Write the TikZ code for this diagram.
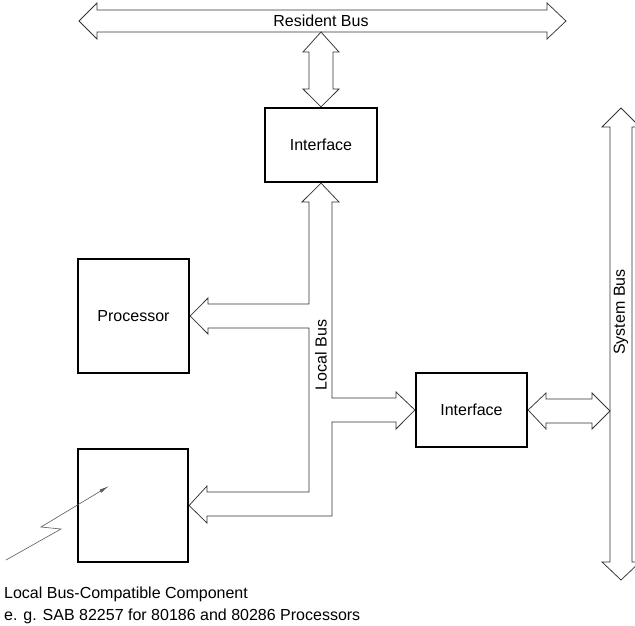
\documentclass[tikz,border=0pt]{standalone}
\usepackage{fontspec}
\setmainfont{Liberation Sans}
\usetikzlibrary{arrows.meta}
\begin{document}
\begin{tikzpicture}[x=1pt,y=-1pt,
  bus/.style={draw=black!80,line width=0.75pt,line join=miter},
  txt/.style={font=\fontsize{16}{19}\selectfont,inner sep=0pt},
  unit/.style={draw=black,line width=2.2pt,inner sep=0pt,txt},
  spark/.style={draw=black!65,line width=0.6pt}]
\useasboundingbox (0,0) rectangle (635,626);

% functional blocks
\node[unit,minimum width=112pt,minimum height=74pt]  (if1)  at (321,145)   {Interface};
\node[unit,minimum width=111pt,minimum height=114pt] (proc) at (133.5,316) {Processor};
\node[unit,minimum width=110pt,minimum height=113pt] (comp) at (133,505.5) {};
\node[unit,minimum width=111pt,minimum height=74pt]  (if2)  at (471.5,410) {Interface};

% resident bus
\path[bus] (79,21) -- (97,3) -- (97,10) -- (547,10) -- (547,3) -- (566,21)
  -- (547,39) -- (547,32) -- (97,32) -- (97,39) -- cycle;
\node[txt] (rb) at (321,21) {Resident Bus};

% resident bus <-> upper interface
\path[bus] (321,32) -- (339,52) -- (333,52) -- (333,89) -- (339,89) -- (if1.north)
  -- (303,89) -- (309,89) -- (309,52) -- (303,52) -- cycle;

% local bus with its branches
\path[bus] (309,202) -- (309,304) -- (208,304) -- (208,298) -- (proc.east)
  -- (208,334) -- (208,328) -- (309,328) -- (309,492) -- (207,492) -- (207,486)
  -- (comp.east) -- (207,523) -- (207,516) -- (332,516) -- (332,422)
  -- (396,422) -- (396,429) -- (if2.west) -- (396,392) -- (396,398)
  -- (332,398) -- (332,202) -- (339,202) -- (if1.south) -- (302,202) -- cycle;
\node[txt,rotate=90] (lb) at (321,355) {Local Bus};

% lower interface <-> system bus
\path[bus] (if2.east) -- (546,393) -- (546,399) -- (592,399) -- (592,393)
  -- (610,411) -- (592,429) -- (592,423) -- (546,423) -- (546,429) -- cycle;

% system bus
\path[bus] (621,108) -- (640,127) -- (632,127) -- (632,562) -- (640,562)
  -- (621,580) -- (602,562) -- (610,562) -- (610,127) -- (602,127) -- cycle;
\node[txt,rotate=90] (sb) at (621,312) {System Bus};

% radiation symbol into the local bus-compatible component
\draw[spark,-{Latex[length=10pt,width=3.5pt]}] (6,560) -- (61,529) -- (41,527) -- (109,486);

% caption
\node[txt,anchor=base west] (note1) at (4,598) {Local Bus-Compatible Component};
\node[txt,anchor=base west] (note2) at (4,620) {e. g. SAB 82257 for 80186 and 80286 Processors};
\end{tikzpicture}
\end{document}
